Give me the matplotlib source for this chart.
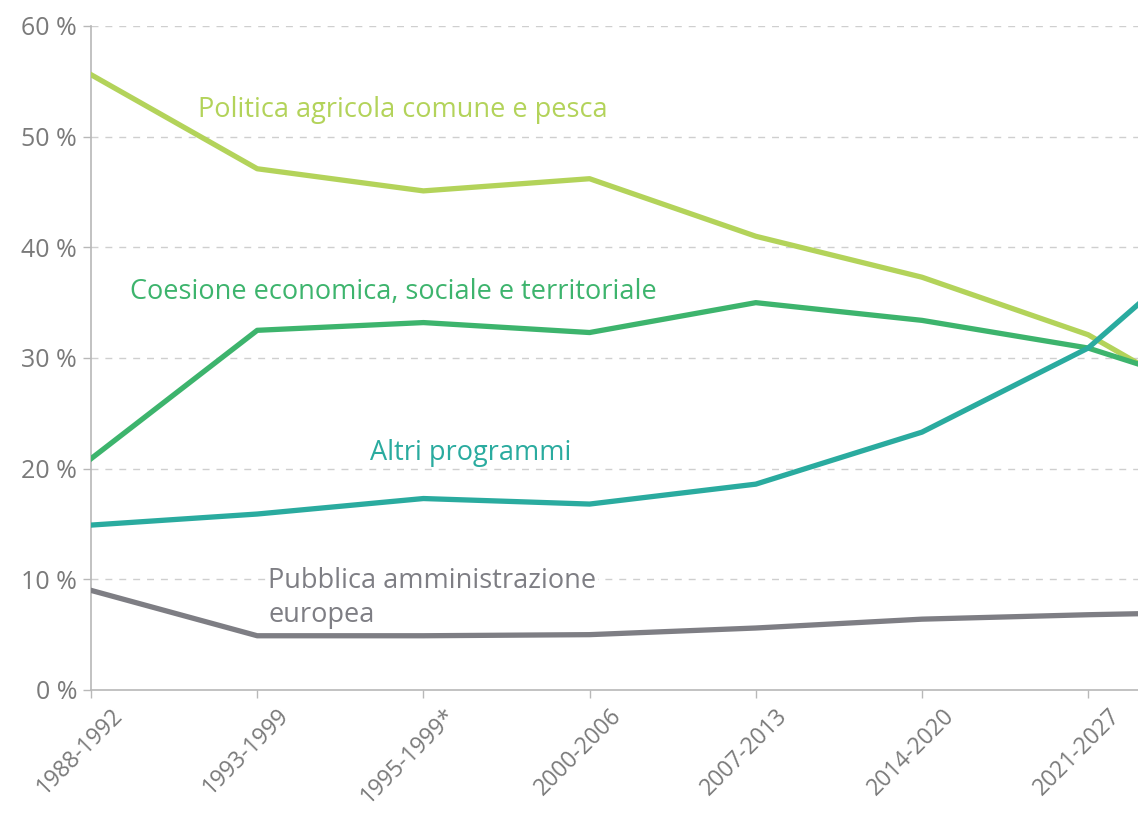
import matplotlib
matplotlib.use("Agg")
import matplotlib.pyplot as plt
import matplotlib.transforms as mtransforms
import numpy as np

plt.rcParams['font.family'] = ['Open Sans', 'DejaVu Sans']

periodi = ["1988-1992", "1993-1999", "1995-1999*", "2000-2006",
           "2007-2013", "2014-2020", "2021-2027", "2028-2034"]
pac = [55.6, 47.1, 45.1, 46.2, 41.0, 37.3, 32.1, 23.5]
coesione = [20.9, 32.5, 33.2, 32.3, 35.0, 33.4, 30.9, 26.1]
altri = [14.9, 15.9, 17.3, 16.8, 18.6, 23.3, 30.9, 44.0]
amministrazione = [9.0, 4.9, 4.9, 5.0, 5.6, 6.4, 6.8, 7.1]
visibili = 7
yticks = [0, 10, 20, 30, 40, 50, 60]

c_pac = "#b3d35a"
c_coe = "#3db46d"
c_alt = "#2aab9f"
c_amm = "#7e7e84"
c_txt = "#7a7a7a"

fig = plt.figure(figsize=(11.38, 8.15), dpi=100)
ax = fig.add_axes([0.080, 0.1534, 0.92, 0.8147])

x = np.arange(len(periodi))
lw = 3.8
ax.plot(x, pac, color=c_pac, lw=lw, solid_joinstyle="round", zorder=3)
ax.plot(x, coesione, color=c_coe, lw=lw, solid_joinstyle="round", zorder=3)
ax.plot(x, altri, color=c_alt, lw=lw, solid_joinstyle="round", zorder=4)
ax.plot(x, amministrazione, color=c_amm, lw=lw, solid_joinstyle="round", zorder=3)

ax.set_xlim(0, 6.30)
ax.set_ylim(0, 60)

ax.set_yticks(yticks)
ax.set_yticklabels([f"{v} %" for v in yticks])
ax.set_xticks(x[:visibili])
ax.set_xticklabels([])

# rotated period labels, nudged right of their ticks like the original
shift = mtransforms.ScaledTranslation(0.20, -0.14, fig.dpi_scale_trans)
trans = ax.get_xaxis_transform() + shift
for xi, lab in zip(x[:visibili], periodi[:visibili]):
    ax.text(xi, 0, lab, transform=trans, rotation=45, ha="right", va="top",
            rotation_mode="anchor", fontsize=16.5, color=c_txt, clip_on=False)

for y in yticks[1:]:
    ax.axhline(y, color="#cfcfcf", lw=1.0, ls=(0, (5, 5)), zorder=1)

for s in ["top", "right"]:
    ax.spines[s].set_visible(False)
ax.spines["left"].set_color("#b8b8b8")
ax.spines["bottom"].set_color("#b8b8b8")
ax.spines["left"].set_linewidth(1.2)
ax.spines["bottom"].set_linewidth(1.2)
ax.tick_params(axis="both", colors="#b8b8b8", labelcolor=c_txt, length=6, width=1)
ax.tick_params(axis="y", pad=4, labelsize=18)

fs = 19.5
ax.text(0.644, 52.4, "Politica agricola comune e pesca", color=c_pac, fontsize=fs, va="center", zorder=5)
ax.text(0.235, 36.0, "Coesione economica, sociale e territoriale", color=c_coe, fontsize=fs, va="center", zorder=5)
ax.text(1.68, 21.4, "Altri programmi", color=c_alt, fontsize=fs, va="center", zorder=5)
ax.text(1.065, 8.3, "Pubblica amministrazione\neuropea", color=c_amm, fontsize=fs, va="center",
        linespacing=1.3, zorder=5,
        bbox=dict(facecolor="white", edgecolor="none", pad=1))

fig.savefig("out.png", dpi=100)
